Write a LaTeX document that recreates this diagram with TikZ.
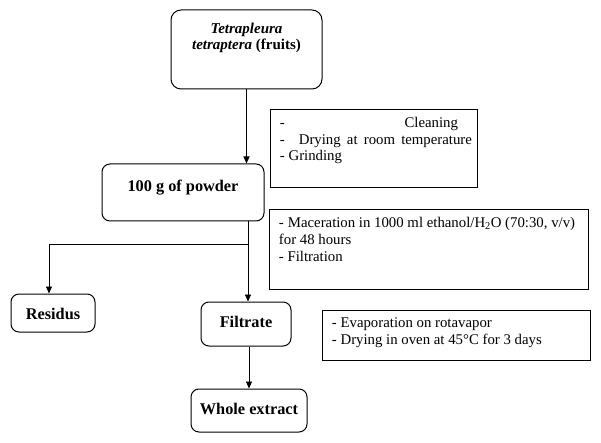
\documentclass[tikz,border=0pt]{standalone}
\usepackage{fontspec}
\setmainfont{Liberation Serif}
\usetikzlibrary{arrows.meta}
\tikzset{
  stage/.style={draw, line width=1pt, rounded corners=8pt, inner sep=0pt, align=center,
    font=\fontsize{16.3}{19}\selectfont\bfseries, text height=11pt, text depth=4pt},
  note/.style={draw, line width=0.9pt, anchor=north west, inner xsep=9.5pt,
    font=\fontsize{14.8}{16.8}\selectfont},
  flow/.style={-{Triangle[length=7pt,width=6pt]}, line width=0.9pt},
  link/.style={line width=0.9pt}
}
\begin{document}
\begin{tikzpicture}[x=1pt,y=-1pt]
\useasboundingbox (0,0) rectangle (601,443);
% stages
\node[stage, rounded corners=10pt, minimum width=151pt, minimum height=79pt, inner ysep=0pt,
  font=\fontsize{15}{16}\selectfont\bfseries] (top) at (246.5,49.5)
  {\parbox[c][79pt][t]{151pt}{\centering\vspace*{13pt}\textit{Tetrapleura}\\\textit{tetraptera} (fruits)}};
\node[stage, minimum width=162pt, minimum height=57pt, text depth=13pt] (powder) at (183,192.5) {100 g of powder};
\node[stage, minimum width=84pt, minimum height=38pt, text height=14pt, text depth=1pt] (res) at (53,313) {Residus};
\node[stage, minimum width=90pt, minimum height=44pt] (filt) at (246,324) {Filtrate};
\node[stage, minimum width=116pt, minimum height=43pt] (whole) at (249,410.5) {Whole extract};
% notes
\node[note, inner ysep=7.5pt] (clean) at (270,109)
  {\parbox[c][63pt][t]{188pt}{-\hfill Cleaning\hspace*{10pt}\\
   \makebox[192pt][s]{-\hspace{14pt}Drying\hfill at\hfill room\hfill temperature}\\
   - Grinding}};
\node[note, inner ysep=8pt] (mac) at (269,209)
  {\parbox[c][64pt][t]{300pt}{-\hspace{4pt}Maceration in 1000 ml ethanol/H\textsubscript{2}O (70:30, v/v)\\
   for 48 hours\\
   - Filtration}};
\node[note, inner ysep=7.5pt] (evap) at (322,310)
  {\parbox[c][35pt][t]{249pt}{- Evaporation on rotavapor\\
   - Drying in oven at 45°C for 3 days}};
% connectors
\coordinate (split) at (248,244);
\draw[flow] (top.south) -- (top.south |- powder.north);
\draw[link] (split |- powder.south) -- (split);
\draw[flow] (split) -- (split |- filt.north);
\draw[flow] (split) -| ([xshift=-4pt]res.north);
\draw[flow] (whole.north |- filt.south) -- (whole.north);
\end{tikzpicture}
\end{document}
